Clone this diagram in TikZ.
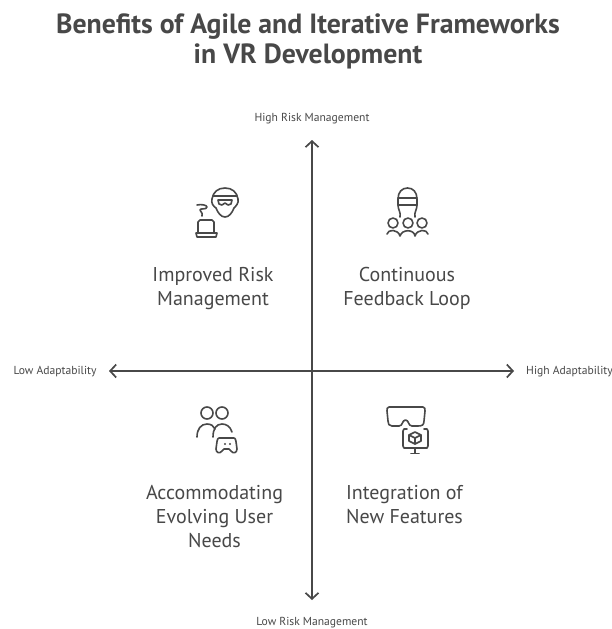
\documentclass[tikz,border=0pt]{standalone}
\usepackage{fontspec}
\setmainfont{PT Sans}
\usetikzlibrary{arrows.meta}
\definecolor{ink}{HTML}{484848}
\tikzset{
  axisline/.style={ink,line width=1.7pt,line cap=round,{Straight Barb[length=6pt,width=13pt,line width=1.7pt]}-{Straight Barb[length=6pt,width=13pt,line width=1.7pt]}},
  axislabel/.style={text=ink,font=\fontsize{11.6}{13}\selectfont,inner sep=0pt},
  quadlabel/.style={text=ink,font=\fontsize{20}{24}\selectfont,align=center,inner sep=0pt},
  titlelabel/.style={text=ink,font=\fontsize{27.8}{30}\selectfont\bfseries,align=center,inner sep=0pt},
  ic/.style={ink,line width=1.6pt,line cap=round,line join=round}
}
\begin{document}
\begin{tikzpicture}[x=1pt,y=-1pt]
\useasboundingbox (0,0) rectangle (612,629);
\fill[white] (0,0) rectangle (612,629);
\node[titlelabel] (title) at (308,41) {Benefits of Agile and Iterative Frameworks\\in VR Development};
\node[axislabel] (top) at (312,118.5) {High Risk Management};
\node[axislabel] (bottom) at (312,622.5) {Low Risk Management};
\node[axislabel] (left) at (55,371.5) {Low Adaptability};
\node[axislabel,anchor=west] (right) at (526,371.5) {High Adaptability};
\coordinate (vt) at (312,140);
\coordinate (vb) at (312,600);
\coordinate (hl) at (109,371);
\coordinate (hr) at (514,371);
\draw[axisline] (vt) -- (vb);
\draw[axisline] (hl) -- (hr);
\node[quadlabel] (q1) at (213,288.5) {Improved Risk\\Management};
\node[quadlabel] (q2) at (407,288.5) {Continuous\\Feedback Loop};
\node[quadlabel] (q3) at (214.5,517) {Accommodating\\Evolving User\\Needs};
\node[quadlabel] (q4) at (404.5,505) {Integration of\\New Features};
% icon 1: headset and laptop
\draw[ic] (212,199) .. controls (213,192) and (218,188) .. (225,188) .. controls (232,188) and (237,192) .. (238,199) .. controls (239,203) and (236,206) .. (234,208) .. controls (232,213) and (229,217) .. (225,217) .. controls (221,217) and (218,213) .. (216,208) .. controls (213,206) and (211,203) .. (212,199) -- cycle;
\draw[ic] (213,196) -- (237,196);
\draw[ic] (218,200) -- (232,200) -- (231,204) -- (228,205) -- (225,203) -- (222,205) -- (219,204) -- cycle;
\draw[ic] (198,233) -- (198,222) -- (200,220) -- (212,220) -- (214,222) -- (214,233);
\draw[ic] (196,233) -- (217,233) -- (216,237) -- (197,237) -- cycle;
\draw[ic] (197,205) .. controls (201,204) and (207,205) .. (207,207) .. controls (207,210) and (199,208) .. (200,210) .. controls (200,212) and (203,212) .. (202,216);
% icon 2: headset and audience
\draw[ic] (398,199) .. controls (398,192) and (402,188) .. (407.5,188) .. controls (413,188) and (417,192) .. (417,199) -- (417,205) .. controls (417,210) and (414,212) .. (415,217);
\draw[ic] (398,199) -- (398,205) .. controls (398,210) and (401,212) .. (400,217);
\draw[ic] (398,198) -- (417,198) (398,205) -- (417,205);
\foreach \cx in {393,408,422}{
  \draw[ic] (\cx,223) circle (5);
}
\draw[ic] (387,234) .. controls (388,229) and (398,229) .. (400,236) .. controls (402,229) and (414,229) .. (415,236) .. controls (417,229) and (427,229) .. (428,234);
% icon 3: people and gamepad
\draw[ic] (207,413) circle (6);
\draw[ic] (222,413) circle (6);
\draw[ic] (197,437) .. controls (197,429) and (201,424) .. (207,424) .. controls (211,424) and (214,426) .. (215,429);
\draw[ic] (213,437) .. controls (213,429) and (216,424) .. (222,424) .. controls (226,424) and (230,426) .. (232,432);
\draw[ic] (219,438) -- (234,438) .. controls (236,438) and (236,442) .. (237,449) .. controls (237,453) and (233,454) .. (231,451) -- (229,449) -- (224,449) -- (222,451) .. controls (220,454) and (216,453) .. (216,449) .. controls (217,442) and (217,438) .. (219,438) -- cycle;
\fill[ink] (225,444) circle (1.1) (230,444) circle (1.1);
% icon 4: goggles, monitor, cube
\draw[ic] (389,407) -- (423,407) .. controls (425,407) and (425,409) .. (425,411) -- (424,421) .. controls (424,425) and (422,426) .. (418,426) -- (412,426) .. controls (408,426) and (409,420) .. (405.5,420) .. controls (402,420) and (403,426) .. (399,426) -- (392,426) .. controls (389,426) and (388,424) .. (388,421) -- (387,411) .. controls (387,409) and (387,407) .. (389,407) -- cycle;
\draw[ic] (407,429) -- (404,429) -- (403,431) -- (403,446) -- (404,448) -- (427,448) -- (428,446) -- (428,431) -- (427,429) -- (424,429);
\draw[ic] (415,448) -- (415,453) (411,453.5) -- (419,453.5);
\draw[ic] (415,432) -- (421,435) -- (421,441) -- (415,444) -- (409,441) -- (409,435) -- cycle;
\draw[ic] (409,435) -- (415,438) -- (421,435) (415,438) -- (415,444);
\end{tikzpicture}
\end{document}
